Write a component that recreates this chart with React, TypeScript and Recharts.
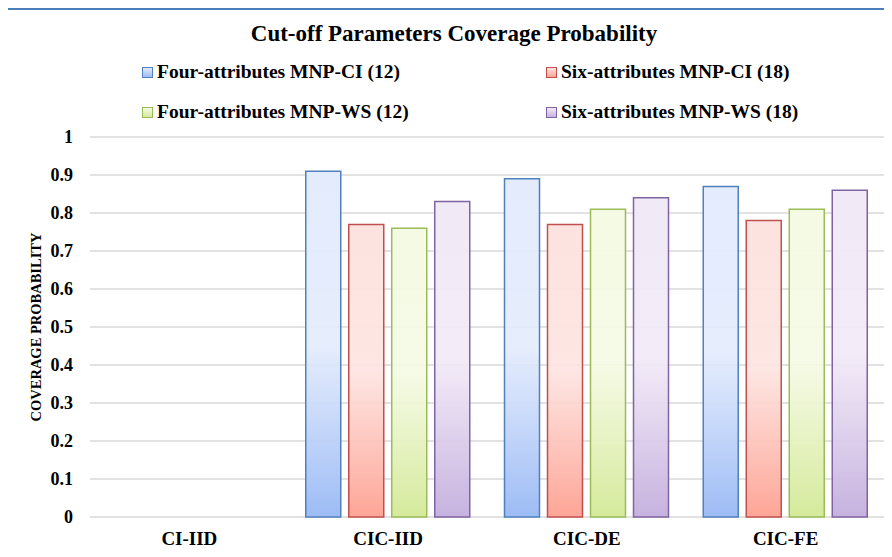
import React from "react";
import { BarChart, Bar, XAxis, YAxis, CartesianGrid } from "recharts";

const categories = ["CI-IID", "CIC-IID", "CIC-DE", "CIC-FE"];
const fourCI = [0, 0.91, 0.89, 0.87];
const sixCI = [0, 0.77, 0.77, 0.78];
const fourWS = [0, 0.76, 0.81, 0.81];
const sixWS = [0, 0.83, 0.84, 0.86];
const yTicks = [0, 0.1, 0.2, 0.3, 0.4, 0.5, 0.6, 0.7, 0.8, 0.9, 1];

const series = [
  { key: "fourCI", name: "Four-attributes MNP-CI (12)", values: fourCI, top: "#e3ebfd", bottom: "#9dbcf5", stroke: "#4f81bd" },
  { key: "sixCI", name: "Six-attributes MNP-CI (18)", values: sixCI, top: "#fde3e0", bottom: "#fea596", stroke: "#c0504d" },
  { key: "fourWS", name: "Four-attributes MNP-WS (12)", values: fourWS, top: "#f5fae4", bottom: "#d5ea9b", stroke: "#9bbb59" },
  { key: "sixWS", name: "Six-attributes MNP-WS (18)", values: sixWS, top: "#f2e9f7", bottom: "#c6b2df", stroke: "#8064a2" },
];

const data = categories.map((c, i) => {
  const row: Record<string, string | number> = { name: c };
  series.forEach((s) => (row[s.key] = s.values[i]));
  return row;
});

const font = '"Liberation Serif", "Times New Roman", serif';

const legendPos = [
  { left: 142, top: 61 },
  { left: 546, top: 61 },
  { left: 142, top: 101 },
  { left: 546, top: 101 },
];

const App = () => {
  return (
    <div style={{ position: "relative", width: 892, height: 557, margin: -8, background: "#fff", fontFamily: font }}>
      <div
        style={{
          position: "absolute",
          left: 6,
          top: 8,
          width: 900,
          height: 600,
          borderLeft: "2px solid #4a7ebb",
          borderTop: "2px solid #4a7ebb",
        }}
      />
      <div
        style={{
          position: "absolute",
          left: 0,
          width: 908,
          top: 21,
          textAlign: "center",
          fontSize: 23,
          fontWeight: "bold",
        }}
      >
        Cut-off Parameters Coverage Probability
      </div>
      {series.map((s, i) => (
        <div
          key={s.key}
          style={{
            position: "absolute",
            left: legendPos[i].left,
            top: legendPos[i].top,
            display: "flex",
            alignItems: "center",
            fontSize: 19.5,
            fontWeight: "bold",
            whiteSpace: "nowrap",
          }}
        >
          <span
            style={{
              display: "inline-block",
              width: 9,
              height: 9,
              marginRight: 4,
              border: `1px solid ${s.stroke}`,
              background: `linear-gradient(${s.top}, ${s.bottom})`,
            }}
          />
          {s.name}
        </div>
      ))}
      <BarChart
        width={892}
        height={557}
        data={data}
        margin={{ top: 137, right: 7, bottom: 0, left: 0 }}
        barSize={35}
        barGap={8}
      >
        <defs>
          {series.map((s) => (
            <linearGradient key={s.key} id={`grad-${s.key}`} x1="0" y1="0" x2="0" y2="1">
              <stop offset="0%" stopColor={s.top} />
              <stop offset="50%" stopColor={s.top} stopOpacity={0.9} />
              <stop offset="100%" stopColor={s.bottom} />
            </linearGradient>
          ))}
        </defs>
        <CartesianGrid vertical={false} stroke="#d9d9d9" strokeWidth={1.5} />
        <XAxis
          dataKey="name"
          height={40}
          axisLine={false}
          tickLine={false}
          tickSize={0}
          tickMargin={15}
          tick={{ fill: "#000", fontSize: 19, fontWeight: "bold", fontFamily: font }}
        />
        <YAxis
          width={90}
          domain={[0, 1]}
          ticks={yTicks}
          interval={0}
          axisLine={false}
          tickLine={false}
          tickSize={0}
          tickMargin={17}
          tick={{ fill: "#000", fontSize: 18, fontWeight: "bold", fontFamily: font }}
          label={{
            value: "COVERAGE PROBABILITY",
            angle: -90,
            position: "insideLeft",
            offset: 0,
            dx: 36,
            style: { fill: "#000", fontSize: 14.5, fontWeight: "bold", fontFamily: font, textAnchor: "middle" },
          }}
        />
        {series.map((s) => (
          <Bar
            key={s.key}
            dataKey={s.key}
            name={s.name}
            fill={`url(#grad-${s.key})`}
            stroke={s.stroke}
            strokeWidth={1.5}
            isAnimationActive={false}
          />
        ))}
      </BarChart>
    </div>
  );
};

export default App;
